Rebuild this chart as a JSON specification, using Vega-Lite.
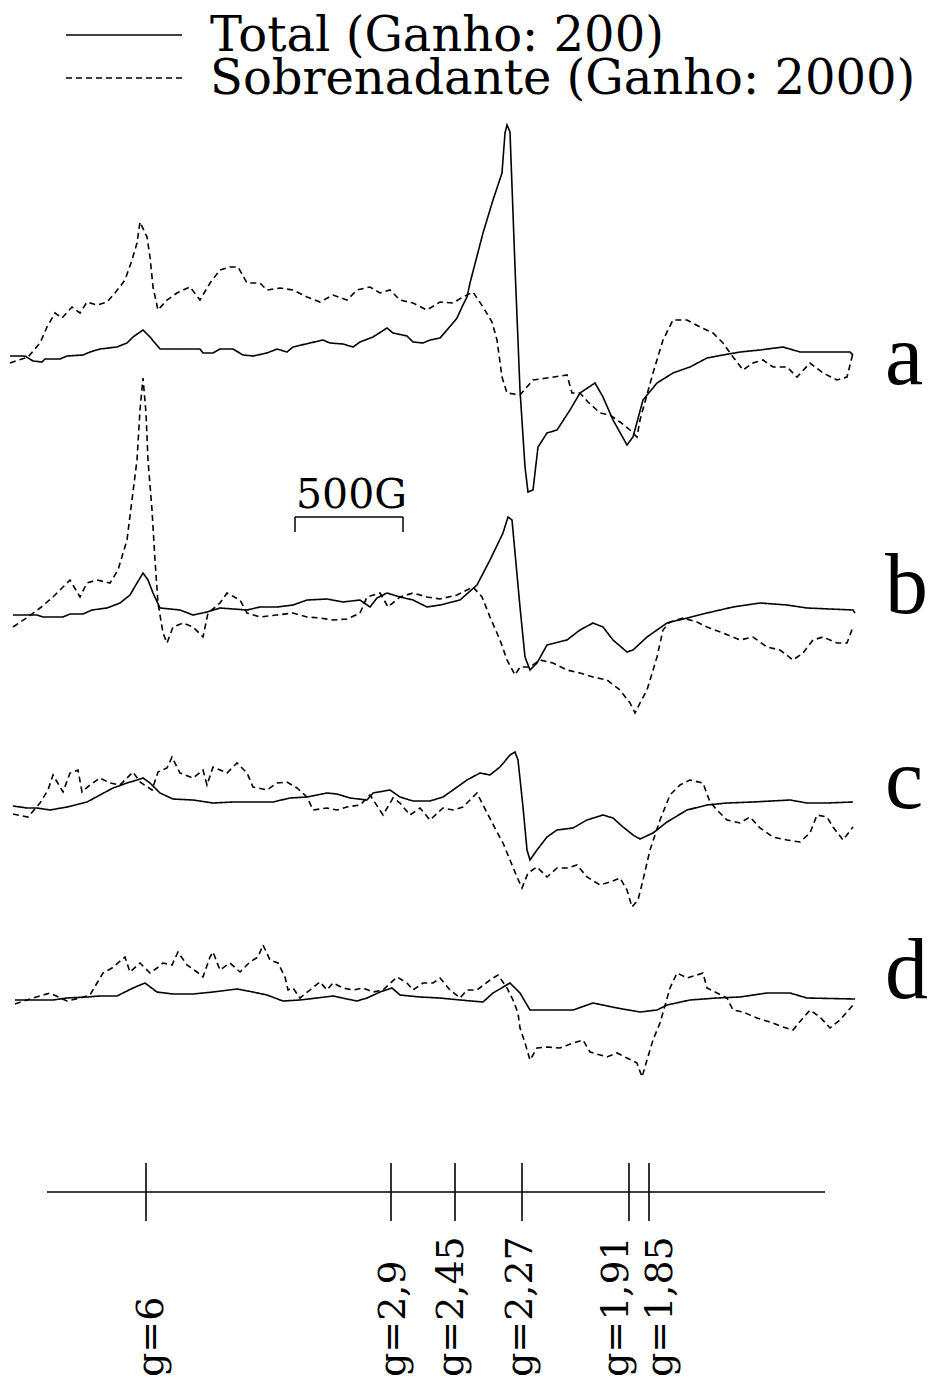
{
"$schema": "https://vega.github.io/schema/vega-lite/v6.json",
"width": 938, "height": 1385,
"autosize": {"type": "fit", "contains": "padding"},
"padding": 0,
"background": "white",
"config": {"view": {"stroke": null}, "line": {"color": "black"}},
"datasets": {
"a": [
{"curva":"Total","campo":10,"sinal":-1},{"curva":"Total","campo":25,"sinal":-1},{"curva":"Total","campo":33,"sinal":-6},{"curva":"Total","campo":42,"sinal":-7},{"curva":"Total","campo":45,"sinal":-4},{"curva":"Total","campo":60,"sinal":-4},{"curva":"Total","campo":67,"sinal":-1},{"curva":"Total","campo":83,"sinal":0},{"curva":"Total","campo":90,"sinal":3},{"curva":"Total","campo":100,"sinal":6},{"curva":"Total","campo":117,"sinal":8},{"curva":"Total","campo":127,"sinal":12},{"curva":"Total","campo":133,"sinal":18},{"curva":"Total","campo":143,"sinal":25},{"curva":"Total","campo":150,"sinal":18},{"curva":"Total","campo":160,"sinal":6},{"curva":"Total","campo":200,"sinal":6},{"curva":"Total","campo":203,"sinal":2},{"curva":"Total","campo":213,"sinal":2},{"curva":"Total","campo":220,"sinal":6},{"curva":"Total","campo":233,"sinal":6},{"curva":"Total","campo":243,"sinal":0},{"curva":"Total","campo":253,"sinal":-1},{"curva":"Total","campo":267,"sinal":2},{"curva":"Total","campo":277,"sinal":6},{"curva":"Total","campo":287,"sinal":3},{"curva":"Total","campo":293,"sinal":8},{"curva":"Total","campo":310,"sinal":12},{"curva":"Total","campo":323,"sinal":15},{"curva":"Total","campo":330,"sinal":12},{"curva":"Total","campo":343,"sinal":11},{"curva":"Total","campo":353,"sinal":8},{"curva":"Total","campo":360,"sinal":13},{"curva":"Total","campo":373,"sinal":18},{"curva":"Total","campo":387,"sinal":27},{"curva":"Total","campo":393,"sinal":22},{"curva":"Total","campo":407,"sinal":19},{"curva":"Total","campo":413,"sinal":13},{"curva":"Total","campo":423,"sinal":12},{"curva":"Total","campo":430,"sinal":15},{"curva":"Total","campo":440,"sinal":17},{"curva":"Total","campo":447,"sinal":25},{"curva":"Total","campo":453,"sinal":32},{"curva":"Total","campo":457,"sinal":37},{"curva":"Total","campo":462,"sinal":48},{"curva":"Total","campo":467,"sinal":58},{"curva":"Total","campo":470,"sinal":72},{"curva":"Total","campo":483,"sinal":122},{"curva":"Total","campo":493,"sinal":155},{"curva":"Total","campo":502,"sinal":182},{"curva":"Total","campo":505,"sinal":222},{"curva":"Total","campo":507,"sinal":230},{"curva":"Total","campo":510,"sinal":223},{"curva":"Total","campo":515,"sinal":88},{"curva":"Total","campo":520,"sinal":-35},{"curva":"Total","campo":525,"sinal":-112},{"curva":"Total","campo":528,"sinal":-137},{"curva":"Total","campo":533,"sinal":-135},{"curva":"Total","campo":538,"sinal":-92},{"curva":"Total","campo":547,"sinal":-78},{"curva":"Total","campo":557,"sinal":-75},{"curva":"Total","campo":570,"sinal":-55},{"curva":"Total","campo":580,"sinal":-38},{"curva":"Total","campo":595,"sinal":-28},{"curva":"Total","campo":603,"sinal":-42},{"curva":"Total","campo":613,"sinal":-65},{"curva":"Total","campo":627,"sinal":-90},{"curva":"Total","campo":633,"sinal":-82},{"curva":"Total","campo":643,"sinal":-45},{"curva":"Total","campo":657,"sinal":-28},{"curva":"Total","campo":673,"sinal":-18},{"curva":"Total","campo":690,"sinal":-12},{"curva":"Total","campo":707,"sinal":-3},{"curva":"Total","campo":723,"sinal":0},{"curva":"Total","campo":740,"sinal":3},{"curva":"Total","campo":760,"sinal":5},{"curva":"Total","campo":783,"sinal":8},{"curva":"Total","campo":800,"sinal":3},{"curva":"Total","campo":827,"sinal":3},{"curva":"Total","campo":850,"sinal":3},{"curva":"Total","campo":853,"sinal":0},
{"curva":"Sobrenadante","campo":10,"sinal":-8},{"curva":"Sobrenadante","campo":28,"sinal":-2},{"curva":"Sobrenadante","campo":40,"sinal":12},{"curva":"Sobrenadante","campo":47,"sinal":28},{"curva":"Sobrenadante","campo":55,"sinal":42},{"curva":"Sobrenadante","campo":62,"sinal":37},{"curva":"Sobrenadante","campo":72,"sinal":48},{"curva":"Sobrenadante","campo":80,"sinal":42},{"curva":"Sobrenadante","campo":87,"sinal":53},{"curva":"Sobrenadante","campo":97,"sinal":50},{"curva":"Sobrenadante","campo":107,"sinal":53},{"curva":"Sobrenadante","campo":115,"sinal":62},{"curva":"Sobrenadante","campo":125,"sinal":75},{"curva":"Sobrenadante","campo":132,"sinal":95},{"curva":"Sobrenadante","campo":137,"sinal":112},{"curva":"Sobrenadante","campo":140,"sinal":133},{"curva":"Sobrenadante","campo":147,"sinal":118},{"curva":"Sobrenadante","campo":150,"sinal":98},{"curva":"Sobrenadante","campo":153,"sinal":68},{"curva":"Sobrenadante","campo":158,"sinal":45},{"curva":"Sobrenadante","campo":167,"sinal":55},{"curva":"Sobrenadante","campo":177,"sinal":62},{"curva":"Sobrenadante","campo":190,"sinal":68},{"curva":"Sobrenadante","campo":200,"sinal":55},{"curva":"Sobrenadante","campo":210,"sinal":72},{"curva":"Sobrenadante","campo":220,"sinal":85},{"curva":"Sobrenadante","campo":230,"sinal":88},{"curva":"Sobrenadante","campo":238,"sinal":88},{"curva":"Sobrenadante","campo":247,"sinal":72},{"curva":"Sobrenadante","campo":260,"sinal":72},{"curva":"Sobrenadante","campo":267,"sinal":65},{"curva":"Sobrenadante","campo":280,"sinal":67},{"curva":"Sobrenadante","campo":293,"sinal":65},{"curva":"Sobrenadante","campo":307,"sinal":58},{"curva":"Sobrenadante","campo":320,"sinal":53},{"curva":"Sobrenadante","campo":333,"sinal":60},{"curva":"Sobrenadante","campo":347,"sinal":55},{"curva":"Sobrenadante","campo":357,"sinal":65},{"curva":"Sobrenadante","campo":370,"sinal":68},{"curva":"Sobrenadante","campo":380,"sinal":62},{"curva":"Sobrenadante","campo":390,"sinal":65},{"curva":"Sobrenadante","campo":400,"sinal":55},{"curva":"Sobrenadante","campo":413,"sinal":52},{"curva":"Sobrenadante","campo":427,"sinal":45},{"curva":"Sobrenadante","campo":440,"sinal":53},{"curva":"Sobrenadante","campo":453,"sinal":52},{"curva":"Sobrenadante","campo":463,"sinal":58},{"curva":"Sobrenadante","campo":473,"sinal":63},{"curva":"Sobrenadante","campo":483,"sinal":48},{"curva":"Sobrenadante","campo":492,"sinal":33},{"curva":"Sobrenadante","campo":497,"sinal":15},{"curva":"Sobrenadante","campo":502,"sinal":-22},{"curva":"Sobrenadante","campo":507,"sinal":-38},{"curva":"Sobrenadante","campo":520,"sinal":-40},{"curva":"Sobrenadante","campo":533,"sinal":-25},{"curva":"Sobrenadante","campo":547,"sinal":-23},{"curva":"Sobrenadante","campo":567,"sinal":-20},{"curva":"Sobrenadante","campo":572,"sinal":-38},{"curva":"Sobrenadante","campo":580,"sinal":-38},{"curva":"Sobrenadante","campo":588,"sinal":-47},{"curva":"Sobrenadante","campo":600,"sinal":-58},{"curva":"Sobrenadante","campo":610,"sinal":-60},{"curva":"Sobrenadante","campo":620,"sinal":-67},{"curva":"Sobrenadante","campo":630,"sinal":-75},{"curva":"Sobrenadante","campo":637,"sinal":-82},{"curva":"Sobrenadante","campo":640,"sinal":-65},{"curva":"Sobrenadante","campo":653,"sinal":-18},{"curva":"Sobrenadante","campo":663,"sinal":15},{"curva":"Sobrenadante","campo":673,"sinal":35},{"curva":"Sobrenadante","campo":687,"sinal":35},{"curva":"Sobrenadante","campo":700,"sinal":28},{"curva":"Sobrenadante","campo":713,"sinal":22},{"curva":"Sobrenadante","campo":723,"sinal":12},{"curva":"Sobrenadante","campo":733,"sinal":-2},{"curva":"Sobrenadante","campo":743,"sinal":-15},{"curva":"Sobrenadante","campo":753,"sinal":-8},{"curva":"Sobrenadante","campo":763,"sinal":-5},{"curva":"Sobrenadante","campo":773,"sinal":-12},{"curva":"Sobrenadante","campo":787,"sinal":-12},{"curva":"Sobrenadante","campo":797,"sinal":-22},{"curva":"Sobrenadante","campo":810,"sinal":-8},{"curva":"Sobrenadante","campo":823,"sinal":-18},{"curva":"Sobrenadante","campo":837,"sinal":-25},{"curva":"Sobrenadante","campo":847,"sinal":-22},{"curva":"Sobrenadante","campo":853,"sinal":2}
],
"b": [
{"curva":"Total","campo":13,"sinal":-3},{"curva":"Total","campo":37,"sinal":-3},{"curva":"Total","campo":43,"sinal":-5},{"curva":"Total","campo":63,"sinal":-5},{"curva":"Total","campo":70,"sinal":-2},{"curva":"Total","campo":83,"sinal":-2},{"curva":"Total","campo":92,"sinal":2},{"curva":"Total","campo":107,"sinal":4},{"curva":"Total","campo":120,"sinal":9},{"curva":"Total","campo":130,"sinal":17},{"curva":"Total","campo":137,"sinal":29},{"curva":"Total","campo":143,"sinal":39},{"curva":"Total","campo":148,"sinal":32},{"curva":"Total","campo":153,"sinal":19},{"curva":"Total","campo":160,"sinal":4},{"curva":"Total","campo":180,"sinal":2},{"curva":"Total","campo":193,"sinal":-3},{"curva":"Total","campo":207,"sinal":0},{"curva":"Total","campo":220,"sinal":4},{"curva":"Total","campo":247,"sinal":2},{"curva":"Total","campo":260,"sinal":5},{"curva":"Total","campo":277,"sinal":5},{"curva":"Total","campo":293,"sinal":7},{"curva":"Total","campo":307,"sinal":12},{"curva":"Total","campo":327,"sinal":13},{"curva":"Total","campo":343,"sinal":10},{"curva":"Total","campo":360,"sinal":12},{"curva":"Total","campo":370,"sinal":5},{"curva":"Total","campo":377,"sinal":14},{"curva":"Total","campo":387,"sinal":19},{"curva":"Total","campo":400,"sinal":15},{"curva":"Total","campo":413,"sinal":12},{"curva":"Total","campo":427,"sinal":5},{"curva":"Total","campo":440,"sinal":7},{"curva":"Total","campo":460,"sinal":12},{"curva":"Total","campo":477,"sinal":27},{"curva":"Total","campo":490,"sinal":52},{"curva":"Total","campo":503,"sinal":79},{"curva":"Total","campo":508,"sinal":95},{"curva":"Total","campo":512,"sinal":92},{"curva":"Total","campo":520,"sinal":5},{"curva":"Total","campo":525,"sinal":-45},{"curva":"Total","campo":530,"sinal":-58},{"curva":"Total","campo":537,"sinal":-51},{"curva":"Total","campo":547,"sinal":-33},{"curva":"Total","campo":567,"sinal":-28},{"curva":"Total","campo":580,"sinal":-18},{"curva":"Total","campo":593,"sinal":-11},{"curva":"Total","campo":603,"sinal":-15},{"curva":"Total","campo":613,"sinal":-28},{"curva":"Total","campo":627,"sinal":-40},{"curva":"Total","campo":633,"sinal":-38},{"curva":"Total","campo":647,"sinal":-25},{"curva":"Total","campo":667,"sinal":-11},{"curva":"Total","campo":687,"sinal":-6},{"curva":"Total","campo":707,"sinal":-1},{"curva":"Total","campo":733,"sinal":5},{"curva":"Total","campo":760,"sinal":9},{"curva":"Total","campo":787,"sinal":7},{"curva":"Total","campo":807,"sinal":4},{"curva":"Total","campo":853,"sinal":2},{"curva":"Total","campo":855,"sinal":-1},
{"curva":"Sobrenadante","campo":13,"sinal":-15},{"curva":"Sobrenadante","campo":28,"sinal":-5},{"curva":"Sobrenadante","campo":40,"sinal":4},{"curva":"Sobrenadante","campo":53,"sinal":15},{"curva":"Sobrenadante","campo":70,"sinal":32},{"curva":"Sobrenadante","campo":80,"sinal":15},{"curva":"Sobrenadante","campo":87,"sinal":29},{"curva":"Sobrenadante","campo":97,"sinal":32},{"curva":"Sobrenadante","campo":110,"sinal":29},{"curva":"Sobrenadante","campo":118,"sinal":42},{"curva":"Sobrenadante","campo":127,"sinal":72},{"curva":"Sobrenadante","campo":132,"sinal":112},{"curva":"Sobrenadante","campo":137,"sinal":152},{"curva":"Sobrenadante","campo":140,"sinal":202},{"curva":"Sobrenadante","campo":143,"sinal":234},{"curva":"Sobrenadante","campo":146,"sinal":199},{"curva":"Sobrenadante","campo":148,"sinal":152},{"curva":"Sobrenadante","campo":152,"sinal":102},{"curva":"Sobrenadante","campo":155,"sinal":52},{"curva":"Sobrenadante","campo":158,"sinal":9},{"curva":"Sobrenadante","campo":163,"sinal":-21},{"curva":"Sobrenadante","campo":167,"sinal":-31},{"curva":"Sobrenadante","campo":173,"sinal":-15},{"curva":"Sobrenadante","campo":183,"sinal":-11},{"curva":"Sobrenadante","campo":193,"sinal":-15},{"curva":"Sobrenadante","campo":203,"sinal":-25},{"curva":"Sobrenadante","campo":208,"sinal":-1},{"curva":"Sobrenadante","campo":220,"sinal":9},{"curva":"Sobrenadante","campo":227,"sinal":19},{"curva":"Sobrenadante","campo":240,"sinal":12},{"curva":"Sobrenadante","campo":247,"sinal":-1},{"curva":"Sobrenadante","campo":260,"sinal":-5},{"curva":"Sobrenadante","campo":277,"sinal":-3},{"curva":"Sobrenadante","campo":293,"sinal":-1},{"curva":"Sobrenadante","campo":307,"sinal":-5},{"curva":"Sobrenadante","campo":320,"sinal":-6},{"curva":"Sobrenadante","campo":333,"sinal":-8},{"curva":"Sobrenadante","campo":347,"sinal":-7},{"curva":"Sobrenadante","campo":360,"sinal":-1},{"curva":"Sobrenadante","campo":367,"sinal":15},{"curva":"Sobrenadante","campo":380,"sinal":19},{"curva":"Sobrenadante","campo":388,"sinal":5},{"curva":"Sobrenadante","campo":400,"sinal":15},{"curva":"Sobrenadante","campo":413,"sinal":19},{"curva":"Sobrenadante","campo":427,"sinal":15},{"curva":"Sobrenadante","campo":440,"sinal":13},{"curva":"Sobrenadante","campo":457,"sinal":17},{"curva":"Sobrenadante","campo":473,"sinal":25},{"curva":"Sobrenadante","campo":482,"sinal":15},{"curva":"Sobrenadante","campo":490,"sinal":-5},{"curva":"Sobrenadante","campo":500,"sinal":-28},{"curva":"Sobrenadante","campo":507,"sinal":-48},{"curva":"Sobrenadante","campo":515,"sinal":-63},{"curva":"Sobrenadante","campo":520,"sinal":-55},{"curva":"Sobrenadante","campo":530,"sinal":-55},{"curva":"Sobrenadante","campo":540,"sinal":-48},{"curva":"Sobrenadante","campo":553,"sinal":-51},{"curva":"Sobrenadante","campo":567,"sinal":-58},{"curva":"Sobrenadante","campo":580,"sinal":-61},{"curva":"Sobrenadante","campo":593,"sinal":-65},{"curva":"Sobrenadante","campo":607,"sinal":-68},{"curva":"Sobrenadante","campo":620,"sinal":-78},{"curva":"Sobrenadante","campo":630,"sinal":-91},{"curva":"Sobrenadante","campo":635,"sinal":-101},{"curva":"Sobrenadante","campo":640,"sinal":-91},{"curva":"Sobrenadante","campo":647,"sinal":-78},{"curva":"Sobrenadante","campo":657,"sinal":-45},{"curva":"Sobrenadante","campo":663,"sinal":-18},{"curva":"Sobrenadante","campo":670,"sinal":-10},{"curva":"Sobrenadante","campo":683,"sinal":-6},{"curva":"Sobrenadante","campo":697,"sinal":-10},{"curva":"Sobrenadante","campo":707,"sinal":-15},{"curva":"Sobrenadante","campo":723,"sinal":-21},{"curva":"Sobrenadante","campo":740,"sinal":-28},{"curva":"Sobrenadante","campo":753,"sinal":-25},{"curva":"Sobrenadante","campo":767,"sinal":-35},{"curva":"Sobrenadante","campo":780,"sinal":-38},{"curva":"Sobrenadante","campo":793,"sinal":-48},{"curva":"Sobrenadante","campo":803,"sinal":-41},{"curva":"Sobrenadante","campo":813,"sinal":-28},{"curva":"Sobrenadante","campo":823,"sinal":-25},{"curva":"Sobrenadante","campo":837,"sinal":-31},{"curva":"Sobrenadante","campo":847,"sinal":-31},{"curva":"Sobrenadante","campo":853,"sinal":-15}
],
"c": [
{"curva":"Total","campo":13,"sinal":-1},{"curva":"Total","campo":27,"sinal":-3},{"curva":"Total","campo":37,"sinal":-3},{"curva":"Total","campo":50,"sinal":-5},{"curva":"Total","campo":67,"sinal":-2},{"curva":"Total","campo":87,"sinal":3},{"curva":"Total","campo":100,"sinal":10},{"curva":"Total","campo":113,"sinal":17},{"curva":"Total","campo":127,"sinal":22},{"curva":"Total","campo":137,"sinal":25},{"curva":"Total","campo":143,"sinal":27},{"curva":"Total","campo":150,"sinal":22},{"curva":"Total","campo":160,"sinal":12},{"curva":"Total","campo":173,"sinal":6},{"curva":"Total","campo":193,"sinal":5},{"curva":"Total","campo":213,"sinal":2},{"curva":"Total","campo":233,"sinal":3},{"curva":"Total","campo":253,"sinal":3},{"curva":"Total","campo":273,"sinal":3},{"curva":"Total","campo":290,"sinal":7},{"curva":"Total","campo":307,"sinal":8},{"curva":"Total","campo":327,"sinal":12},{"curva":"Total","campo":337,"sinal":11},{"curva":"Total","campo":350,"sinal":7},{"curva":"Total","campo":367,"sinal":5},{"curva":"Total","campo":373,"sinal":12},{"curva":"Total","campo":390,"sinal":15},{"curva":"Total","campo":400,"sinal":8},{"curva":"Total","campo":413,"sinal":4},{"curva":"Total","campo":430,"sinal":4},{"curva":"Total","campo":443,"sinal":8},{"curva":"Total","campo":453,"sinal":15},{"curva":"Total","campo":467,"sinal":25},{"curva":"Total","campo":480,"sinal":32},{"curva":"Total","campo":490,"sinal":30},{"curva":"Total","campo":500,"sinal":38},{"curva":"Total","campo":510,"sinal":50},{"curva":"Total","campo":515,"sinal":53},{"curva":"Total","campo":518,"sinal":45},{"curva":"Total","campo":523,"sinal":-2},{"curva":"Total","campo":527,"sinal":-45},{"curva":"Total","campo":530,"sinal":-55},{"curva":"Total","campo":537,"sinal":-45},{"curva":"Total","campo":547,"sinal":-32},{"curva":"Total","campo":557,"sinal":-25},{"curva":"Total","campo":573,"sinal":-23},{"curva":"Total","campo":587,"sinal":-15},{"curva":"Total","campo":603,"sinal":-10},{"curva":"Total","campo":613,"sinal":-13},{"curva":"Total","campo":623,"sinal":-22},{"curva":"Total","campo":633,"sinal":-30},{"curva":"Total","campo":640,"sinal":-34},{"curva":"Total","campo":653,"sinal":-28},{"curva":"Total","campo":667,"sinal":-17},{"curva":"Total","campo":687,"sinal":-5},{"curva":"Total","campo":707,"sinal":0},{"curva":"Total","campo":727,"sinal":2},{"curva":"Total","campo":753,"sinal":3},{"curva":"Total","campo":790,"sinal":5},{"curva":"Total","campo":807,"sinal":2},{"curva":"Total","campo":827,"sinal":2},{"curva":"Total","campo":853,"sinal":3},
{"curva":"Sobrenadante","campo":13,"sinal":-9},{"curva":"Sobrenadante","campo":28,"sinal":-12},{"curva":"Sobrenadante","campo":40,"sinal":2},{"curva":"Sobrenadante","campo":48,"sinal":15},{"curva":"Sobrenadante","campo":53,"sinal":30},{"curva":"Sobrenadante","campo":63,"sinal":13},{"curva":"Sobrenadante","campo":70,"sinal":32},{"curva":"Sobrenadante","campo":78,"sinal":35},{"curva":"Sobrenadante","campo":82,"sinal":13},{"curva":"Sobrenadante","campo":90,"sinal":20},{"curva":"Sobrenadante","campo":100,"sinal":27},{"curva":"Sobrenadante","campo":110,"sinal":22},{"curva":"Sobrenadante","campo":120,"sinal":20},{"curva":"Sobrenadante","campo":133,"sinal":33},{"curva":"Sobrenadante","campo":140,"sinal":23},{"curva":"Sobrenadante","campo":152,"sinal":15},{"curva":"Sobrenadante","campo":158,"sinal":33},{"curva":"Sobrenadante","campo":167,"sinal":37},{"curva":"Sobrenadante","campo":172,"sinal":48},{"curva":"Sobrenadante","campo":180,"sinal":32},{"curva":"Sobrenadante","campo":193,"sinal":27},{"curva":"Sobrenadante","campo":203,"sinal":35},{"curva":"Sobrenadante","campo":207,"sinal":20},{"curva":"Sobrenadante","campo":213,"sinal":38},{"curva":"Sobrenadante","campo":227,"sinal":32},{"curva":"Sobrenadante","campo":237,"sinal":42},{"curva":"Sobrenadante","campo":247,"sinal":32},{"curva":"Sobrenadante","campo":253,"sinal":18},{"curva":"Sobrenadante","campo":267,"sinal":15},{"curva":"Sobrenadante","campo":277,"sinal":22},{"curva":"Sobrenadante","campo":287,"sinal":23},{"curva":"Sobrenadante","campo":297,"sinal":17},{"curva":"Sobrenadante","campo":307,"sinal":8},{"curva":"Sobrenadante","campo":313,"sinal":-5},{"curva":"Sobrenadante","campo":327,"sinal":-3},{"curva":"Sobrenadante","campo":337,"sinal":-5},{"curva":"Sobrenadante","campo":347,"sinal":-2},{"curva":"Sobrenadante","campo":360,"sinal":0},{"curva":"Sobrenadante","campo":370,"sinal":10},{"curva":"Sobrenadante","campo":383,"sinal":-10},{"curva":"Sobrenadante","campo":393,"sinal":7},{"curva":"Sobrenadante","campo":400,"sinal":2},{"curva":"Sobrenadante","campo":410,"sinal":-10},{"curva":"Sobrenadante","campo":420,"sinal":-3},{"curva":"Sobrenadante","campo":430,"sinal":-15},{"curva":"Sobrenadante","campo":443,"sinal":-3},{"curva":"Sobrenadante","campo":453,"sinal":-5},{"curva":"Sobrenadante","campo":463,"sinal":-2},{"curva":"Sobrenadante","campo":477,"sinal":12},{"curva":"Sobrenadante","campo":483,"sinal":0},{"curva":"Sobrenadante","campo":497,"sinal":-27},{"curva":"Sobrenadante","campo":503,"sinal":-38},{"curva":"Sobrenadante","campo":510,"sinal":-55},{"curva":"Sobrenadante","campo":517,"sinal":-72},{"curva":"Sobrenadante","campo":522,"sinal":-83},{"curva":"Sobrenadante","campo":528,"sinal":-68},{"curva":"Sobrenadante","campo":537,"sinal":-62},{"curva":"Sobrenadante","campo":547,"sinal":-72},{"curva":"Sobrenadante","campo":557,"sinal":-63},{"curva":"Sobrenadante","campo":567,"sinal":-63},{"curva":"Sobrenadante","campo":577,"sinal":-60},{"curva":"Sobrenadante","campo":587,"sinal":-72},{"curva":"Sobrenadante","campo":600,"sinal":-80},{"curva":"Sobrenadante","campo":610,"sinal":-77},{"curva":"Sobrenadante","campo":620,"sinal":-73},{"curva":"Sobrenadante","campo":627,"sinal":-85},{"curva":"Sobrenadante","campo":632,"sinal":-102},{"curva":"Sobrenadante","campo":638,"sinal":-95},{"curva":"Sobrenadante","campo":643,"sinal":-75},{"curva":"Sobrenadante","campo":650,"sinal":-45},{"curva":"Sobrenadante","campo":660,"sinal":-15},{"curva":"Sobrenadante","campo":670,"sinal":10},{"curva":"Sobrenadante","campo":680,"sinal":20},{"curva":"Sobrenadante","campo":690,"sinal":25},{"curva":"Sobrenadante","campo":703,"sinal":22},{"curva":"Sobrenadante","campo":710,"sinal":3},{"curva":"Sobrenadante","campo":717,"sinal":-5},{"curva":"Sobrenadante","campo":727,"sinal":-15},{"curva":"Sobrenadante","campo":740,"sinal":-18},{"curva":"Sobrenadante","campo":750,"sinal":-12},{"curva":"Sobrenadante","campo":760,"sinal":-23},{"curva":"Sobrenadante","campo":773,"sinal":-32},{"curva":"Sobrenadante","campo":787,"sinal":-35},{"curva":"Sobrenadante","campo":800,"sinal":-37},{"curva":"Sobrenadante","campo":810,"sinal":-28},{"curva":"Sobrenadante","campo":817,"sinal":-10},{"curva":"Sobrenadante","campo":827,"sinal":-12},{"curva":"Sobrenadante","campo":833,"sinal":-22},{"curva":"Sobrenadante","campo":843,"sinal":-35},{"curva":"Sobrenadante","campo":853,"sinal":-22}
],
"d": [
{"curva":"Total","campo":15,"sinal":-1},{"curva":"Total","campo":33,"sinal":-1},{"curva":"Total","campo":53,"sinal":-1},{"curva":"Total","campo":67,"sinal":1},{"curva":"Total","campo":87,"sinal":2},{"curva":"Total","campo":100,"sinal":3},{"curva":"Total","campo":117,"sinal":3},{"curva":"Total","campo":133,"sinal":11},{"curva":"Total","campo":145,"sinal":16},{"curva":"Total","campo":157,"sinal":7},{"curva":"Total","campo":173,"sinal":5},{"curva":"Total","campo":193,"sinal":5},{"curva":"Total","campo":213,"sinal":7},{"curva":"Total","campo":237,"sinal":10},{"curva":"Total","campo":253,"sinal":7},{"curva":"Total","campo":267,"sinal":4},{"curva":"Total","campo":283,"sinal":-2},{"curva":"Total","campo":300,"sinal":-1},{"curva":"Total","campo":317,"sinal":1},{"curva":"Total","campo":333,"sinal":3},{"curva":"Total","campo":347,"sinal":0},{"curva":"Total","campo":357,"sinal":-2},{"curva":"Total","campo":367,"sinal":1},{"curva":"Total","campo":380,"sinal":7},{"curva":"Total","campo":392,"sinal":11},{"curva":"Total","campo":400,"sinal":4},{"curva":"Total","campo":420,"sinal":2},{"curva":"Total","campo":440,"sinal":1},{"curva":"Total","campo":460,"sinal":-1},{"curva":"Total","campo":483,"sinal":-3},{"curva":"Total","campo":493,"sinal":6},{"curva":"Total","campo":510,"sinal":16},{"curva":"Total","campo":520,"sinal":6},{"curva":"Total","campo":530,"sinal":-11},{"curva":"Total","campo":550,"sinal":-11},{"curva":"Total","campo":573,"sinal":-11},{"curva":"Total","campo":593,"sinal":-4},{"curva":"Total","campo":617,"sinal":-9},{"curva":"Total","campo":640,"sinal":-13},{"curva":"Total","campo":657,"sinal":-11},{"curva":"Total","campo":667,"sinal":-6},{"curva":"Total","campo":690,"sinal":-1},{"curva":"Total","campo":717,"sinal":1},{"curva":"Total","campo":740,"sinal":2},{"curva":"Total","campo":767,"sinal":6},{"curva":"Total","campo":790,"sinal":6},{"curva":"Total","campo":807,"sinal":1},{"curva":"Total","campo":855,"sinal":0},
{"curva":"Sobrenadante","campo":15,"sinal":-5},{"curva":"Sobrenadante","campo":33,"sinal":1},{"curva":"Sobrenadante","campo":50,"sinal":6},{"curva":"Sobrenadante","campo":67,"sinal":-2},{"curva":"Sobrenadante","campo":80,"sinal":1},{"curva":"Sobrenadante","campo":90,"sinal":4},{"curva":"Sobrenadante","campo":97,"sinal":16},{"curva":"Sobrenadante","campo":103,"sinal":26},{"curva":"Sobrenadante","campo":112,"sinal":31},{"curva":"Sobrenadante","campo":125,"sinal":42},{"curva":"Sobrenadante","campo":130,"sinal":27},{"curva":"Sobrenadante","campo":140,"sinal":36},{"curva":"Sobrenadante","campo":150,"sinal":26},{"curva":"Sobrenadante","campo":157,"sinal":31},{"curva":"Sobrenadante","campo":163,"sinal":36},{"curva":"Sobrenadante","campo":172,"sinal":34},{"curva":"Sobrenadante","campo":178,"sinal":47},{"curva":"Sobrenadante","campo":187,"sinal":34},{"curva":"Sobrenadante","campo":197,"sinal":27},{"curva":"Sobrenadante","campo":203,"sinal":22},{"curva":"Sobrenadante","campo":210,"sinal":42},{"curva":"Sobrenadante","campo":213,"sinal":47},{"curva":"Sobrenadante","campo":220,"sinal":29},{"curva":"Sobrenadante","campo":230,"sinal":36},{"curva":"Sobrenadante","campo":240,"sinal":27},{"curva":"Sobrenadante","campo":250,"sinal":37},{"curva":"Sobrenadante","campo":258,"sinal":42},{"curva":"Sobrenadante","campo":263,"sinal":54},{"curva":"Sobrenadante","campo":270,"sinal":39},{"curva":"Sobrenadante","campo":278,"sinal":36},{"curva":"Sobrenadante","campo":285,"sinal":22},{"curva":"Sobrenadante","campo":288,"sinal":9},{"curva":"Sobrenadante","campo":293,"sinal":11},{"curva":"Sobrenadante","campo":300,"sinal":1},{"curva":"Sobrenadante","campo":310,"sinal":9},{"curva":"Sobrenadante","campo":320,"sinal":17},{"curva":"Sobrenadante","campo":327,"sinal":9},{"curva":"Sobrenadante","campo":333,"sinal":16},{"curva":"Sobrenadante","campo":343,"sinal":11},{"curva":"Sobrenadante","campo":353,"sinal":9},{"curva":"Sobrenadante","campo":363,"sinal":11},{"curva":"Sobrenadante","campo":373,"sinal":7},{"curva":"Sobrenadante","campo":383,"sinal":9},{"curva":"Sobrenadante","campo":397,"sinal":22},{"curva":"Sobrenadante","campo":407,"sinal":16},{"curva":"Sobrenadante","campo":413,"sinal":9},{"curva":"Sobrenadante","campo":423,"sinal":16},{"curva":"Sobrenadante","campo":433,"sinal":16},{"curva":"Sobrenadante","campo":440,"sinal":21},{"curva":"Sobrenadante","campo":450,"sinal":9},{"curva":"Sobrenadante","campo":460,"sinal":1},{"curva":"Sobrenadante","campo":467,"sinal":9},{"curva":"Sobrenadante","campo":477,"sinal":9},{"curva":"Sobrenadante","campo":490,"sinal":19},{"curva":"Sobrenadante","campo":498,"sinal":24},{"curva":"Sobrenadante","campo":507,"sinal":11},{"curva":"Sobrenadante","campo":513,"sinal":-1},{"curva":"Sobrenadante","campo":518,"sinal":-14},{"curva":"Sobrenadante","campo":520,"sinal":-29},{"curva":"Sobrenadante","campo":525,"sinal":-44},{"curva":"Sobrenadante","campo":530,"sinal":-61},{"curva":"Sobrenadante","campo":537,"sinal":-49},{"curva":"Sobrenadante","campo":547,"sinal":-48},{"curva":"Sobrenadante","campo":560,"sinal":-49},{"curva":"Sobrenadante","campo":573,"sinal":-44},{"curva":"Sobrenadante","campo":583,"sinal":-41},{"curva":"Sobrenadante","campo":590,"sinal":-53},{"curva":"Sobrenadante","campo":607,"sinal":-58},{"curva":"Sobrenadante","campo":617,"sinal":-54},{"curva":"Sobrenadante","campo":627,"sinal":-59},{"curva":"Sobrenadante","campo":637,"sinal":-64},{"curva":"Sobrenadante","campo":642,"sinal":-78},{"curva":"Sobrenadante","campo":647,"sinal":-61},{"curva":"Sobrenadante","campo":653,"sinal":-41},{"curva":"Sobrenadante","campo":660,"sinal":-24},{"curva":"Sobrenadante","campo":670,"sinal":11},{"curva":"Sobrenadante","campo":677,"sinal":26},{"curva":"Sobrenadante","campo":687,"sinal":21},{"curva":"Sobrenadante","campo":697,"sinal":24},{"curva":"Sobrenadante","campo":703,"sinal":26},{"curva":"Sobrenadante","campo":707,"sinal":11},{"curva":"Sobrenadante","campo":717,"sinal":6},{"curva":"Sobrenadante","campo":727,"sinal":1},{"curva":"Sobrenadante","campo":733,"sinal":-11},{"curva":"Sobrenadante","campo":743,"sinal":-13},{"curva":"Sobrenadante","campo":757,"sinal":-19},{"curva":"Sobrenadante","campo":770,"sinal":-23},{"curva":"Sobrenadante","campo":783,"sinal":-28},{"curva":"Sobrenadante","campo":793,"sinal":-31},{"curva":"Sobrenadante","campo":803,"sinal":-19},{"curva":"Sobrenadante","campo":810,"sinal":-11},{"curva":"Sobrenadante","campo":820,"sinal":-18},{"curva":"Sobrenadante","campo":830,"sinal":-29},{"curva":"Sobrenadante","campo":840,"sinal":-21},{"curva":"Sobrenadante","campo":847,"sinal":-13},{"curva":"Sobrenadante","campo":853,"sinal":-6}
],
"marcadores": [
{"rotulo":"g=6","campo":146,"campo_rotulo":163},
{"rotulo":"g=2,9","campo":391,"campo_rotulo":405},
{"rotulo":"g=2,45","campo":455,"campo_rotulo":463},
{"rotulo":"g=2,27","campo":522,"campo_rotulo":532},
{"rotulo":"g=1,91","campo":629,"campo_rotulo":628},
{"rotulo":"g=1,85","campo":649,"campo_rotulo":672}
],
"legenda": [
{"curva":"Total","rotulo":"Total (Ganho: 200)"},
{"curva":"Sobrenadante","rotulo":"Sobrenadante (Ganho: 2000)"}
]
},
"layer": [
{
"layer": [
{"data": {"name": "legenda"}, "mark": {"type": "rule", "color": "black", "strokeWidth": 1.6},
 "encoding": {
  "x": {"datum": 66, "type": "quantitative", "scale": {"domain": [0, 938]}},
  "x2": {"datum": 182},
  "y": {"field": "curva", "type": "nominal", "scale": {"type": "point", "domain": ["Total", "Sobrenadante"], "range": [35, 78], "padding": 0}, "axis": null},
  "strokeDash": {"field": "curva", "type": "nominal", "legend": null, "scale": {"domain": ["Total", "Sobrenadante"], "range": [[1, 0], [6, 4]]}}
 }},
{"data": {"name": "legenda"}, "mark": {"type": "text", "font": "DejaVu Serif", "fontSize": 48, "align": "left", "baseline": "alphabetic", "dy": 16, "color": "black"},
 "encoding": {
  "x": {"datum": 210, "type": "quantitative", "scale": {"domain": [0, 938]}},
  "y": {"field": "curva", "type": "nominal", "scale": {"type": "point", "domain": ["Total", "Sobrenadante"], "range": [35, 78], "padding": 0}, "axis": null},
  "text": {"field": "rotulo"}
 }}
]
},
{
"layer": [
{"data": {"name": "a"}, "mark": {"type": "line", "strokeWidth": 1.6, "color": "black"},
 "encoding": {
  "x": {"field": "campo", "type": "quantitative", "scale": {"domain": [0, 938], "nice": false, "zero": false}, "axis": null},
  "y": {"field": "sinal", "type": "quantitative", "scale": {"domain": [-1030, 355], "nice": false, "zero": false}, "axis": null},
  "strokeDash": {"field": "curva", "type": "nominal", "legend": null, "scale": {"domain": ["Total", "Sobrenadante"], "range": [[1, 0], [6, 4]]}}
 }},
{"data": {"values": [{}]}, "mark": {"type": "text", "text": "a", "font": "Liberation Serif", "fontSize": 86, "align": "left", "baseline": "alphabetic", "dy": 29, "color": "black"},
 "encoding": {"x": {"datum": 885, "type": "quantitative", "scale": {"domain": [0, 938]}}, "y": {"datum": 0, "type": "quantitative", "scale": {"domain": [-1030, 355]}}}}
]
},
{
"layer": [
{"data": {"name": "b"}, "mark": {"type": "line", "strokeWidth": 1.6, "color": "black"},
 "encoding": {
  "x": {"field": "campo", "type": "quantitative", "scale": {"domain": [0, 938], "nice": false, "zero": false}, "axis": null},
  "y": {"field": "sinal", "type": "quantitative", "scale": {"domain": [-773, 612], "nice": false, "zero": false}, "axis": null},
  "strokeDash": {"field": "curva", "type": "nominal", "legend": null, "scale": {"domain": ["Total", "Sobrenadante"], "range": [[1, 0], [6, 4]]}}
 }},
{"data": {"values": [{}]}, "mark": {"type": "text", "text": "b", "font": "Liberation Serif", "fontSize": 86, "align": "left", "baseline": "alphabetic", "dy": 1, "color": "black"},
 "encoding": {"x": {"datum": 885, "type": "quantitative", "scale": {"domain": [0, 938]}}, "y": {"datum": 0, "type": "quantitative", "scale": {"domain": [-773, 612]}}}},
{"data": {"values": [{}]}, "mark": {"type": "text", "text": "500G", "font": "DejaVu Serif", "fontSize": 41, "align": "left", "baseline": "alphabetic", "color": "black"},
 "encoding": {"x": {"datum": 296, "type": "quantitative", "scale": {"domain": [0, 938]}}, "y": {"datum": 104, "type": "quantitative", "scale": {"domain": [-773, 612]}}}},
{"data": {"values": [{}]}, "mark": {"type": "rule", "color": "black", "strokeWidth": 1.5},
 "encoding": {"x": {"datum": 295, "type": "quantitative", "scale": {"domain": [0, 938]}}, "x2": {"datum": 403}, "y": {"datum": 95, "type": "quantitative", "scale": {"domain": [-773, 612]}}}},
{"data": {"values": [{}]}, "mark": {"type": "rule", "color": "black", "strokeWidth": 1.5},
 "encoding": {"x": {"datum": 295, "type": "quantitative", "scale": {"domain": [0, 938]}}, "y": {"datum": 95, "type": "quantitative", "scale": {"domain": [-773, 612]}}, "y2": {"datum": 80}}},
{"data": {"values": [{}]}, "mark": {"type": "rule", "color": "black", "strokeWidth": 1.5},
 "encoding": {"x": {"datum": 403, "type": "quantitative", "scale": {"domain": [0, 938]}}, "y": {"datum": 95, "type": "quantitative", "scale": {"domain": [-773, 612]}}, "y2": {"datum": 80}}}
]
},
{
"layer": [
{"data": {"name": "c"}, "mark": {"type": "line", "strokeWidth": 1.6, "color": "black"},
 "encoding": {
  "x": {"field": "campo", "type": "quantitative", "scale": {"domain": [0, 938], "nice": false, "zero": false}, "axis": null},
  "y": {"field": "sinal", "type": "quantitative", "scale": {"domain": [-580, 805], "nice": false, "zero": false}, "axis": null},
  "strokeDash": {"field": "curva", "type": "nominal", "legend": null, "scale": {"domain": ["Total", "Sobrenadante"], "range": [[1, 0], [6, 4]]}}
 }},
{"data": {"values": [{}]}, "mark": {"type": "text", "text": "c", "font": "Liberation Serif", "fontSize": 86, "align": "left", "baseline": "alphabetic", "dy": 3, "color": "black"},
 "encoding": {"x": {"datum": 885, "type": "quantitative", "scale": {"domain": [0, 938]}}, "y": {"datum": 0, "type": "quantitative", "scale": {"domain": [-580, 805]}}}}
]
},
{
"layer": [
{"data": {"name": "d"}, "mark": {"type": "line", "strokeWidth": 1.6, "color": "black"},
 "encoding": {
  "x": {"field": "campo", "type": "quantitative", "scale": {"domain": [0, 938], "nice": false, "zero": false}, "axis": null},
  "y": {"field": "sinal", "type": "quantitative", "scale": {"domain": [-386, 999], "nice": false, "zero": false}, "axis": null},
  "strokeDash": {"field": "curva", "type": "nominal", "legend": null, "scale": {"domain": ["Total", "Sobrenadante"], "range": [[1, 0], [6, 4]]}}
 }},
{"data": {"values": [{}]}, "mark": {"type": "text", "text": "d", "font": "Liberation Serif", "fontSize": 86, "align": "left", "baseline": "alphabetic", "dy": -1, "color": "black"},
 "encoding": {"x": {"datum": 885, "type": "quantitative", "scale": {"domain": [0, 938]}}, "y": {"datum": 0, "type": "quantitative", "scale": {"domain": [-386, 999]}}}},
{"data": {"values": [{}]}, "mark": {"type": "rule", "color": "black", "strokeWidth": 1.6},
 "encoding": {"x": {"datum": 47, "type": "quantitative", "scale": {"domain": [0, 938]}}, "x2": {"datum": 825}, "y": {"datum": -193, "type": "quantitative", "scale": {"domain": [-386, 999]}}}},
{"data": {"name": "marcadores"}, "mark": {"type": "rule", "color": "black", "strokeWidth": 1.6},
 "encoding": {"x": {"field": "campo", "type": "quantitative", "scale": {"domain": [0, 938]}}, "y": {"datum": -164, "type": "quantitative", "scale": {"domain": [-386, 999]}}, "y2": {"datum": -222}}},
{"data": {"name": "marcadores"}, "mark": {"type": "text", "angle": 270, "align": "left", "baseline": "alphabetic", "font": "DejaVu Serif", "fontSize": 38, "color": "black"},
 "encoding": {"x": {"field": "campo_rotulo", "type": "quantitative", "scale": {"domain": [0, 938]}}, "y": {"datum": -378, "type": "quantitative", "scale": {"domain": [-386, 999]}}, "text": {"field": "rotulo"}}}
]
}
],
"resolve": {"scale": {"y": "independent"}}
}
